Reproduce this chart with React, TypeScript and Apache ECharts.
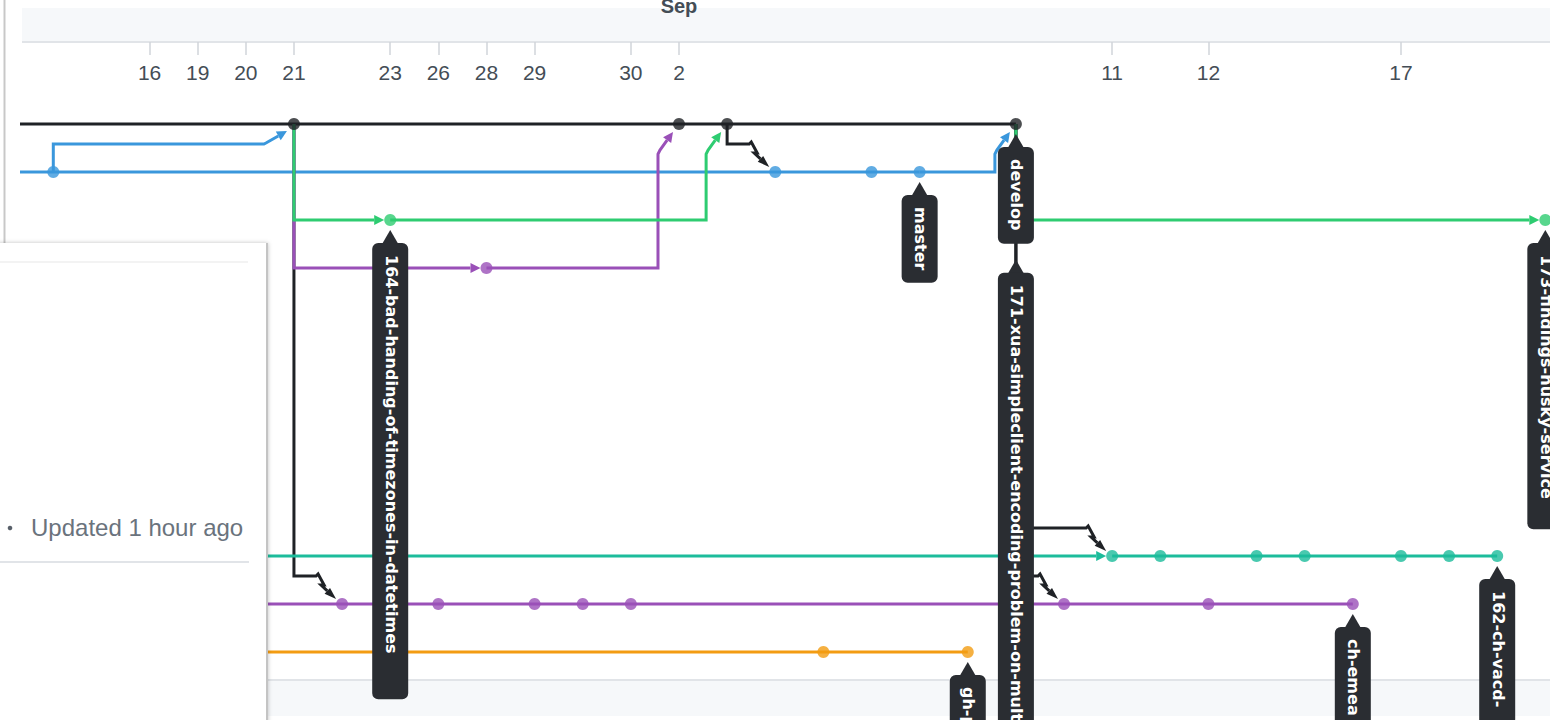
import React, { useEffect, useRef } from "react";
import * as echarts from "echarts";

// ---------- data ----------
const palette: Record<string, string> = {
  black: "#1f2226",
  blue: "#3a97dc",
  green: "#2ecc71",
  purple: "#9a50b8",
  teal: "#1cbc9b",
  orange: "#f39c12",
};

// date ticks on the commit-slot axis
const tickCols = [2, 3, 4, 5, 7, 8, 9, 10, 12, 13, 22, 24, 28];
const tickLabels = ["16", "19", "20", "21", "23", "26", "28", "29", "30", "2", "11", "12", "17"];
const monthLabel = "Sep";
const monthCol = 13;

const LEFT = -1; // line continues from before the visible range

// lanes: row, colour, where the line starts, commits
const laneRow = [0, 1, 2, 2, 3, 9, 10, 11];
const laneColor = ["black", "blue", "green", "green", "purple", "teal", "purple", "orange"];
const laneFrom = [LEFT, LEFT, 7, 31, 9, 22, LEFT, LEFT];
const laneCommits = [
  [5, 13, 14, 20],
  [0, 15, 17, 18],
  [7],
  [31],
  [9],
  [22, 23, 25, 26, 28, 29, 30],
  [6, 8, 10, 11, 12, 21, 24, 27],
  [16, 19],
];

// connections between lanes
const edgeKind = ["zig", "zig", "zig", "zig", "fork", "fork", "fork", "fork", "mergeEarly", "mergeLate", "mergeLate", "mergeLate"];
const edgeColor = ["black", "black", "black", "black", "purple", "green", "green", "teal", "blue", "purple", "green", "blue"];
const edgeFrom = [[5, 0], [14, 0], [20, 0], [20, 0], [5, 0], [5, 0], [20, 0], [LEFT, 9], [0, 1], [9, 3], [7, 2], [18, 1]];
const edgeTo = [[6, 10], [15, 1], [22, 9], [21, 10], [9, 3], [7, 2], [31, 2], [22, 9], [5, 0], [13, 0], [14, 0], [20, 0]];

// branch labels
const labelText = [
  "164-bad-handing-of-timezones-in-datetimes",
  "master",
  "develop",
  "171-xua-simpleclient-encoding-problem-on-multi",
  "173-findings-husky-service",
  "162-ch-vacd-",
  "ch-emea",
  "gh-pages",
];
const labelAt = [[7, 2], [18, 1], [20, 0], [20, 0], [31, 2], [30, 9], [27, 10], [19, 11]];

const updatedText = "Updated 1 hour ago";

// ---------- layout constants ----------
const W = 1550;
const H = 720;
const GRID_LEFT = 22;
const GRID_TOP = 42;
const GRID_BOTTOM_Y = 680;
const COL_PX = 48.13;
const ROW_PX = 48;
const COL0_X = 53.3;
const ROW0_Y = 124;
const X_MIN = -(COL0_X - GRID_LEFT) / COL_PX;
const X_MAX = X_MIN + (W - GRID_LEFT) / COL_PX;
const Y_MIN = -(ROW0_Y - GRID_TOP) / ROW_PX;
const Y_MAX = Y_MIN + (GRID_BOTTOM_Y - GRID_TOP) / ROW_PX;

const LABEL_FONT = 'bold 16px "DejaVu Sans"';
const LABEL_BG = "#2a2d32";
const LINE_W = 3;

export default function App() {
  const ref = useRef<HTMLDivElement>(null);

  useEffect(() => {
    if (!ref.current) return;
    const chart = echarts.init(ref.current, null, { renderer: "svg" });

    // measure label lengths
    const cv = document.createElement("canvas");
    const ctx = cv.getContext("2d")!;
    ctx.font = LABEL_FONT;
    const stackBottom: Record<string, number> = {};
    const labelGeom = labelText.map((t, i) => {
      const key = labelAt[i].join(",");
      const w = ctx.measureText(t).width;
      const tip = key in stackBottom ? stackBottom[key] + 16 : 10;
      const top = tip + 13;
      const bottom = top + w * 1.1 + 18;
      stackBottom[key] = bottom;
      return { tip, top, bottom };
    });

    const series: any[] = [];

    laneRow.forEach((row, i) => {
      const pts: number[][] = [];
      if (laneFrom[i] !== laneCommits[i][0]) pts.push([laneFrom[i], row]);
      laneCommits[i].forEach((c) => pts.push([c, row]));
      if (pts.length > 1) {
        series.push({
          type: "line",
          data: pts,
          showSymbol: false,
          symbol: "none",
          lineStyle: { color: palette[laneColor[i]], width: LINE_W },
          z: 2,
          silent: true,
        });
      }
    });

    series.push({
      type: "custom",
      z: 3,
      silent: true,
      encode: { x: [0, 2], y: [1, 3] },
      data: edgeFrom.map((f, i) => [f[0], f[1], edgeTo[i][0], edgeTo[i][1]]),
      renderItem: (params: any, api: any) => {
        const i = params.dataIndex;
        const s = api.coord([api.value(0), api.value(1)]);
        const t = api.coord([api.value(2), api.value(3)]);
        const kind = edgeKind[i];
        const color = palette[edgeColor[i]];
        let pts: number[][] = [];
        let from: number[];
        let tip: number[];
        let headLen = 10;
        let headHalf = 5;
        if (kind === "fork") {
          pts = [s, [s[0], t[1]]];
          from = [t[0] - 18, t[1]];
          tip = [t[0] - 6, t[1]];
        } else if (kind === "zig") {
          const hy = t[1] - 28;
          pts = [s, [s[0], hy], [t[0] - 26, hy], [t[0] - 24, hy - 2], [t[0] - 18, t[1] - 19], [t[0] - 21, t[1] - 19]];
          from = [t[0] - 21, t[1] - 19];
          tip = [t[0] - 6, t[1] - 5];
          headLen = 12;
          headHalf = 4;
        } else if (kind === "mergeLate") {
          const vx = t[0] - 21;
          pts = [s, [vx, s[1]], [vx, t[1] + 30]];
          from = [vx + 2, t[1] + 26];
          tip = [t[0] - 6, t[1] + 8];
        } else {
          const hy = s[1] - 28;
          pts = [s, [s[0], hy], [t[0] - 30, hy]];
          from = [t[0] - 28, hy - 1];
          tip = [t[0] - 7, t[1] + 7];
        }
        const dx = tip[0] - from[0];
        const dy = tip[1] - from[1];
        const L = Math.hypot(dx, dy) || 1;
        const ux = dx / L;
        const uy = dy / L;
        const base = [tip[0] - ux * headLen, tip[1] - uy * headLen];
        pts.push(from, base);
        return {
          type: "group",
          children: [
            {
              type: "polyline",
              shape: { points: pts },
              style: { stroke: color, lineWidth: LINE_W, fill: null, lineJoin: "miter" },
            },
            {
              type: "polygon",
              shape: {
                points: [
                  tip,
                  [base[0] - uy * headHalf, base[1] + ux * headHalf],
                  [base[0] + uy * headHalf, base[1] - ux * headHalf],
                ],
              },
              style: { fill: color },
            },
          ],
        };
      },
    });

    laneRow.forEach((row, i) => {
      series.push({
        type: "scatter",
        data: laneCommits[i].map((c) => [c, row]),
        symbol: "circle",
        symbolSize: 12,
        itemStyle: { color: palette[laneColor[i]] },
        z: 4,
        silent: true,
      });
    });

    series.push({
      type: "custom",
      z: 6,
      silent: true,
      clip: false,
      encode: { x: 0, y: 1 },
      data: labelAt.map((p) => [p[0], p[1]]),
      renderItem: (params: any, api: any) => {
        const i = params.dataIndex;
        const p = api.coord([api.value(0), api.value(1)]);
        const g = labelGeom[i];
        const x = p[0];
        const y = p[1];
        return {
          type: "group",
          children: [
            {
              type: "polygon",
              shape: { points: [[x, y + g.tip], [x - 11, y + g.top + 6], [x + 11, y + g.top + 6]] },
              style: { fill: LABEL_BG },
            },
            {
              type: "rect",
              shape: { x: x - 18, y: y + g.top, width: 36, height: g.bottom - g.top, r: 6 },
              style: { fill: LABEL_BG },
            },
            {
              type: "text",
              x: x + 1,
              y: y + g.top + 12,
              rotation: -Math.PI / 2,
              style: {
                text: labelText[i],
                fill: "#ffffff",
                font: LABEL_FONT,
                align: "left",
                verticalAlign: "middle",
              },
            },
          ],
        };
      },
    });

    const monthX = COL0_X + monthCol * COL_PX;

    chart.setOption({
      animation: false,
      backgroundColor: "#ffffff",
      grid: { left: GRID_LEFT, right: 0, top: GRID_TOP, bottom: H - GRID_BOTTOM_Y },
      xAxis: {
        type: "value",
        position: "top",
        min: X_MIN,
        max: X_MAX,
        splitLine: { show: false },
        axisLine: { show: false, onZero: false },
        axisTick: {
          show: true,
          inside: true,
          length: 13,
          customValues: tickCols,
          lineStyle: { color: "#d1d5da", width: 1.5 },
        },
        axisLabel: {
          show: true,
          inside: true,
          margin: 20,
          customValues: tickCols,
          formatter: (v: number) => {
            const k = tickCols.indexOf(Math.round(v));
            return k >= 0 ? tickLabels[k] : "";
          },
          fontFamily: "Liberation Sans",
          fontSize: 21,
          color: "#444d56",
        },
      },
      yAxis: {
        type: "value",
        inverse: true,
        min: Y_MIN,
        max: Y_MAX,
        show: false,
      },
      graphic: [
        { type: "rect", z: -1, shape: { x: GRID_LEFT, y: 8, width: W - GRID_LEFT, height: 34 }, style: { fill: "#f6f8fa" } },
        { type: "line", z: -1, shape: { x1: GRID_LEFT, y1: 42, x2: W, y2: 42 }, style: { stroke: "#e1e4e8", lineWidth: 2 } },
        {
          type: "text",
          z: 1,
          x: monthX,
          y: 16,
          style: { text: monthLabel, font: 'bold 20px "Liberation Sans"', fill: "#444d56", align: "center", verticalAlign: "bottom" },
        },
        { type: "line", z: 1, shape: { x1: 4.5, y1: 0, x2: 4.5, y2: 243 }, style: { stroke: "#c8c8c8", lineWidth: 2 } },
        { type: "rect", z: -1, shape: { x: 267, y: 680, width: W - 267, height: 36 }, style: { fill: "#f6f8fa" } },
        { type: "line", z: -1, shape: { x1: 267, y1: 680, x2: W, y2: 680 }, style: { stroke: "#e1e4e8", lineWidth: 2 } },
        {
          type: "rect",
          z: 20,
          shape: { x: -4, y: 243, width: 271, height: 480 },
          style: { fill: "#ffffff", shadowBlur: 4, shadowColor: "rgba(0,0,0,0.25)", shadowOffsetX: 1, shadowOffsetY: 0 },
        },
        { type: "line", z: 21, shape: { x1: 267, y1: 243, x2: 267, y2: H }, style: { stroke: "#c4c4c4", lineWidth: 2 } },
        { type: "line", z: 21, shape: { x1: 0, y1: 262, x2: 248, y2: 262 }, style: { stroke: "#f3f3f3", lineWidth: 2 } },
        { type: "circle", z: 21, shape: { cx: 10, cy: 528, r: 2.3 }, style: { fill: "#586069" } },
        {
          type: "text",
          z: 21,
          x: 31,
          y: 527,
          style: { text: updatedText, font: '24px "Liberation Sans"', fill: "#6a737d", align: "left", verticalAlign: "middle" },
        },
        { type: "line", z: 21, shape: { x1: 0, y1: 562, x2: 249, y2: 562 }, style: { stroke: "#e1e4e8", lineWidth: 2 } },
      ],
      series,
    });

    return () => chart.dispose();
  }, []);

  return <div ref={ref} style={{ position: "fixed", left: 0, top: 0, width: W, height: H }} />;
}
